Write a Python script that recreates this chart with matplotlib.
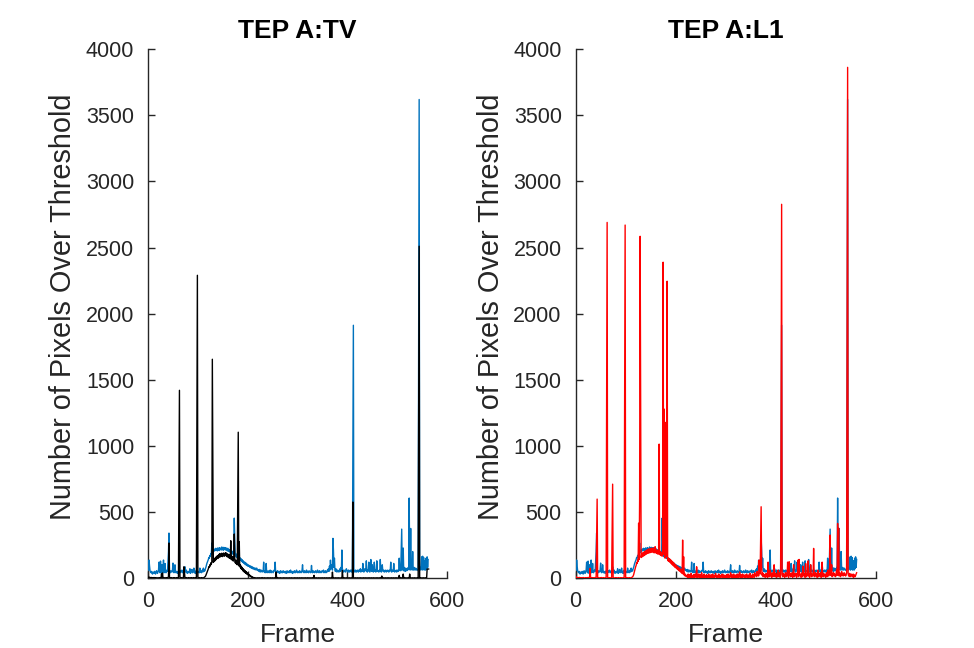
import numpy as np
import matplotlib
matplotlib.use("Agg")
import matplotlib.pyplot as plt

# Shared background signal (blue), one value per frame starting at frame 1
blue = [
    60, 136, 90, 55, 45, 40, 50, 35, 30, 45, 40, 35, 50, 40, 30, 45, 55, 40, 35, 50,
    60, 120, 45, 40, 128, 50, 35, 100, 45, 60, 136, 40, 50, 110, 45, 40, 55, 60, 50, 120,
    199, 340, 60, 45, 40, 55, 50, 45, 60, 113, 50, 40, 45, 100, 55, 40, 50, 45, 35, 50,
    45, 60, 50, 40, 55, 45, 50, 60, 40, 45, 50, 55, 40, 85, 50, 45, 60, 40, 35, 45,
    50, 40, 45, 70, 35, 45, 50, 65, 40, 45, 55, 75, 40, 50, 35, 45, 60, 50, 45, 40,
    45, 50, 40, 75, 45, 50, 40, 55, 60, 45, 75, 50, 60, 55, 70, 80, 95, 110, 120, 130,
    140, 155, 150, 170, 165, 185, 178, 265, 190, 208, 198, 215, 205, 220, 208, 225, 210, 222, 205, 228,
    210, 225, 208, 230, 215, 222, 212, 235, 215, 228, 210, 232, 218, 225, 212, 230, 215, 222, 205, 225,
    205, 215, 200, 212, 195, 210, 188, 205, 185, 200, 178, 195, 453, 287, 170, 185, 160, 178, 155, 170,
    161, 148, 160, 140, 152, 132, 145, 125, 138, 118, 130, 112, 122, 105, 118, 100, 112, 95, 105, 90,
    100, 88, 95, 82, 92, 78, 88, 74, 85, 70, 80, 68, 76, 64, 75, 62, 70, 75, 58, 65,
    55, 60, 50, 65, 45, 55, 60, 50, 45, 55, 50, 120, 45, 55, 40, 50, 110, 45, 40, 50,
    55, 45, 40, 50, 60, 45, 40, 55, 50, 45, 40, 50, 60, 55, 120, 45, 40, 50, 45, 55,
    40, 45, 50, 35, 45, 55, 40, 50, 45, 40, 55, 45, 50, 40, 45, 50, 35, 45, 55, 40,
    45, 50, 40, 55, 45, 60, 40, 45, 50, 35, 45, 50, 40, 55, 45, 40, 50, 60, 45, 40,
    50, 45, 40, 55, 45, 50, 40, 45, 60, 100, 45, 50, 40, 55, 45, 50, 40, 60, 45, 50,
    45, 40, 55, 50, 45, 40, 50, 95, 45, 40, 55, 45, 50, 40, 45, 55, 50, 40, 45, 60,
    45, 50, 40, 55, 45, 50, 40, 45, 55, 50, 45, 60, 40, 50, 45, 55, 40, 50, 45, 60,
    55, 70, 50, 90, 60, 135, 70, 85, 100, 60, 300, 210, 80, 150, 60, 50, 70, 55, 45, 60,
    50, 55, 45, 60, 70, 50, 80, 60, 212, 55, 50, 45, 60, 55, 50, 45, 60, 70, 55, 50,
    45, 60, 50, 45, 55, 60, 50, 45, 60, 55, 983, 1912, 50, 55, 45, 60, 50, 45, 55, 60,
    50, 45, 60, 55, 50, 70, 45, 60, 55, 50, 110, 60, 45, 50, 70, 55, 60, 130, 50, 45,
    60, 55, 120, 50, 45, 60, 140, 55, 50, 100, 60, 45, 55, 120, 50, 60, 45, 55, 130, 60,
    50, 55, 45, 60, 50, 140, 55, 45, 60, 100, 55, 50, 60, 45, 55, 50, 60, 45, 55, 50,
    60, 55, 45, 50, 60, 55, 120, 50, 45, 60, 55, 50, 110, 60, 45, 55, 50, 60, 45, 55,
    60, 50, 55, 150, 60, 70, 55, 200, 370, 60, 70, 227, 55, 80, 60, 50, 75, 60, 55, 70,
    60, 80, 65, 605, 70, 60, 375, 65, 75, 60, 200, 70, 60, 80, 65, 60, 75, 70, 60, 65,
    60, 70, 1845, 3620, 65, 60, 80, 70, 160, 60, 165, 70, 155, 60, 80, 130, 60, 150, 70, 160,
    80, 140,
]

# TEP A:TV signal (black, left panel)
tv = [
    5, 8, 3, 0, 2, 5, 0, 3, 0, 2, 0, 4, 0, 2, 0, 3, 0, 0, 2, 0,
    0, 3, 0, 2, 0, 0, 30, 2, 38, 0, 3, 0, 2, 0, 0, 3, 0, 2, 0, 5,
    10, 265, 5, 0, 2, 0, 3, 0, 0, 2, 0, 3, 0, 2, 0, 0, 3, 0, 2, 0,
    5, 710, 1420, 5, 0, 3, 0, 2, 0, 0, 3, 85, 48, 2, 0, 3, 0, 2, 0, 0,
    3, 0, 2, 0, 0, 3, 0, 2, 0, 0, 3, 0, 2, 0, 0, 3, 0, 1140, 2290, 5,
    0, 3, 0, 2, 0, 0, 3, 0, 2, 0, 0, 3, 5, 8, 12, 20, 30, 40, 50, 60,
    70, 85, 80, 100, 92, 115, 105, 125, 1655, 877, 118, 140, 125, 150, 132, 158, 140, 165, 148, 170,
    150, 178, 158, 185, 160, 180, 165, 188, 162, 182, 168, 190, 165, 185, 170, 192, 168, 185, 160, 180,
    158, 178, 150, 172, 148, 282, 140, 165, 135, 158, 128, 150, 333, 140, 115, 135, 108, 125, 100, 590,
    1103, 92, 275, 85, 100, 72, 90, 65, 80, 55, 70, 48, 62, 42, 55, 35, 48, 30, 40, 25,
    32, 20, 26, 15, 20, 10, 14, 6, 9, 3, 5, 0, 3, 0, 2, 0, 1, 0, 0, 2,
    0, 1, 0, 2, 0, 0, 1, 0, 3, 0, 0, 1, 0, 2, 0, 0, 1, 0, 0, 2,
    0, 1, 0, 0, 2, 0, 1, 0, 0, 2, 0, 0, 1, 0, 2, 0, 45, 0, 1, 0,
    2, 0, 0, 1, 0, 2, 0, 0, 1, 0, 0, 2, 0, 1, 0, 0, 2, 0, 0, 1,
    0, 0, 2, 0, 1, 0, 0, 2, 0, 0, 1, 0, 0, 2, 0, 1, 0, 0, 2, 0,
    1, 0, 0, 2, 0, 0, 1, 0, 2, 0, 0, 1, 0, 0, 2, 0, 1, 0, 0, 2,
    0, 1, 0, 0, 2, 0, 0, 1, 0, 2, 0, 0, 20, 0, 1, 0, 0, 2, 0, 0,
    1, 0, 2, 0, 0, 1, 0, 0, 2, 0, 1, 0, 0, 2, 0, 0, 1, 0, 2, 0,
    0, 1, 0, 2, 0, 0, 1, 0, 0, 45, 0, 2, 0, 0, 1, 0, 2, 0, 0, 1,
    0, 2, 0, 0, 1, 0, 0, 2, 0, 55, 1, 0, 0, 2, 0, 0, 1, 0, 2, 0,
    0, 1, 0, 2, 0, 0, 1, 0, 0, 2, 575, 0, 1, 0, 0, 2, 0, 0, 1, 0,
    2, 0, 0, 1, 0, 2, 0, 0, 1, 0, 0, 2, 0, 1, 0, 0, 2, 0, 0, 1,
    0, 0, 2, 0, 1, 0, 0, 2, 0, 0, 1, 0, 2, 0, 0, 1, 0, 0, 2, 0,
    1, 0, 0, 2, 0, 0, 1, 0, 15, 0, 0, 2, 0, 1, 0, 0, 2, 0, 0, 1,
    0, 2, 0, 0, 1, 0, 0, 2, 0, 1, 0, 0, 2, 0, 0, 1, 0, 2, 0, 0,
    1, 0, 0, 20, 0, 1, 0, 0, 2, 0, 0, 30, 0, 1, 0, 0, 2, 0, 0, 1,
    0, 2, 0, 0, 30, 0, 1, 0, 0, 2, 0, 0, 1, 0, 2, 0, 0, 1, 0, 0,
    2, 0, 1255, 2510, 0, 2, 0, 0, 1, 0, 0, 2, 0, 1, 0, 0, 2, 0, 0, 68,
    68, 68, 68,
]

# TEP A:L1 signal (red, right panel)
l1 = [
    10, 5, 0, 3, 0, 2, 5, 0, 0, 3, 0, 2, 0, 0, 4, 0, 2, 0, 0, 3,
    0, 2, 0, 0, 5, 0, 3, 0, 73, 0, 2, 0, 0, 3, 0, 2, 0, 0, 4, 0,
    2, 302, 597, 5, 0, 3, 0, 0, 2, 0, 4, 0, 0, 2, 0, 3, 0, 0, 2, 0,
    3, 1346, 2690, 5, 0, 2, 0, 3, 0, 0, 2, 0, 355, 710, 3, 0, 2, 0, 0, 3,
    0, 2, 0, 0, 3, 0, 2, 0, 0, 3, 0, 2, 0, 0, 3, 0, 2, 1330, 2670, 5,
    0, 3, 0, 2, 0, 0, 3, 0, 2, 0, 0, 3, 5, 10, 15, 25, 40, 55, 70, 85,
    95, 115, 110, 135, 125, 415, 140, 600, 2585, 1353, 155, 180, 160, 190, 165, 195, 170, 200, 175, 205,
    180, 210, 185, 215, 188, 220, 190, 218, 192, 225, 195, 220, 198, 228, 195, 222, 190, 218, 237, 215,
    188, 212, 185, 208, 180, 205, 1013, 200, 175, 198, 170, 192, 165, 188, 2389, 180, 1278, 175, 150, 170,
    1179, 160, 2245, 155, 130, 150, 125, 145, 118, 138, 110, 130, 102, 122, 95, 115, 88, 105, 80, 98,
    75, 92, 68, 85, 62, 80, 55, 72, 50, 65, 42, 58, 35, 287, 30, 161, 22, 35, 15, 25,
    15, 10, 20, 5, 30, 0, 15, 25, 5, 10, 35, 0, 20, 10, 5, 25, 0, 15, 30, 10,
    5, 85, 20, 0, 15, 30, 10, 5, 25, 0, 15, 40, 5, 20, 10, 0, 30, 15, 5, 20,
    10, 25, 0, 15, 5, 30, 10, 20, 0, 15, 25, 5, 10, 30, 0, 20, 10, 5, 25, 35,
    10, 0, 20, 15, 5, 30, 10, 25, 0, 15, 5, 20, 30, 10, 0, 25, 15, 5, 20, 10,
    0, 25, 10, 5, 30, 15, 0, 20, 10, 40, 5, 15, 25, 0, 10, 30, 5, 20, 15, 0,
    25, 10, 5, 30, 15, 0, 20, 45, 10, 5, 25, 15, 0, 30, 10, 20, 5, 15, 25, 0,
    10, 30, 15, 5, 20, 0, 25, 10, 35, 5, 15, 20, 0, 30, 10, 25, 5, 40, 15, 20,
    30, 10, 50, 20, 40, 15, 136, 60, 30, 262, 539, 80, 20, 40, 10, 30, 15, 25, 5, 20,
    35, 10, 25, 5, 120, 20, 10, 30, 60, 15, 25, 5, 40, 10, 30, 15, 100, 25, 10, 35,
    20, 5, 30, 15, 60, 10, 25, 40, 5, 30, 1414, 2827, 20, 10, 35, 15, 30, 5, 25, 40,
    10, 30, 15, 120, 25, 5, 123, 20, 35, 10, 30, 15, 40, 5, 25, 100, 10, 30, 15, 20,
    35, 5, 25, 40, 136, 10, 140, 20, 30, 15, 5, 25, 40, 10, 90, 20, 30, 15, 5, 110,
    25, 10, 35, 20, 130, 15, 30, 5, 25, 100, 40, 10, 30, 20, 15, 224, 30, 10, 25, 40,
    15, 30, 5, 25, 60, 10, 35, 20, 15, 40, 5, 30, 120, 20, 10, 35, 25, 15, 30, 5,
    20, 40, 10, 30, 60, 15, 25, 80, 325, 20, 35, 100, 10, 30, 25, 40, 15, 30, 20, 10,
    35, 60, 20, 413, 30, 376, 15, 40, 25, 10, 30, 50, 20, 35, 15, 25, 40, 20, 30, 15,
    25, 40, 1935, 3863, 30, 15, 20, 35, 10, 25, 30, 15, 20, 10, 30, 5, 25, 15, 10, 20,
    30, 40,
]

titles = ["TEP A:TV", "TEP A:L1"]
xlabel = "Frame"
ylabel = "Number of Pixels Over Threshold"
xticks = [0, 200, 400, 600]
yticks = [0, 500, 1000, 1500, 2000, 2500, 3000, 3500, 4000]

plt.rcParams['font.family'] = ['Liberation Sans', 'DejaVu Sans']

BLUE = '#0072BD'
AXC = '#262626'

W, H = 974, 648
fig = plt.figure(figsize=(W / 100, H / 100), dpi=100)
ax1 = fig.add_axes([0.152, 0.108, 0.307, 0.816])
ax2 = fig.add_axes([0.591, 0.108, 0.308, 0.816])

x_blue = np.arange(1, len(blue) + 1)
ax1.plot(x_blue, blue, color=BLUE, lw=1.0, zorder=3)
ax1.plot(np.arange(1, len(tv) + 1), tv, color='black', lw=1.0, zorder=4)
ax2.plot(x_blue, blue, color=BLUE, lw=1.0, zorder=3)
ax2.plot(np.arange(1, len(l1) + 1), l1, color='red', lw=1.0, zorder=4)

for ax, t, ylab_x in zip((ax1, ax2), titles, (77, 505)):
    ax.set_xlim(0, 600)
    ax.set_ylim(0, 4000)
    ax.set_xticks(xticks)
    ax.set_yticks(yticks)
    ax.spines['top'].set_visible(False)
    ax.spines['right'].set_visible(False)
    for s in ('left', 'bottom'):
        ax.spines[s].set_color(AXC)
        ax.spines[s].set_linewidth(1.0)
    ax.tick_params(direction='in', length=5, width=1.0, colors=AXC,
                   labelsize=15.5)
    ax.tick_params(axis='y', pad=10)
    ax.tick_params(axis='x', pad=9)
    ax.set_title(t, fontsize=19, fontweight='bold', color='black', pad=8)
    ax.set_xlabel(xlabel, fontsize=19, color=AXC, labelpad=8)
    ax.set_ylabel(ylabel, fontsize=20.8, color=AXC)
    ax.yaxis.set_label_coords(ylab_x / W, 1 - 306.5 / H, transform=fig.transFigure)

fig.savefig("out.png", dpi=100)
